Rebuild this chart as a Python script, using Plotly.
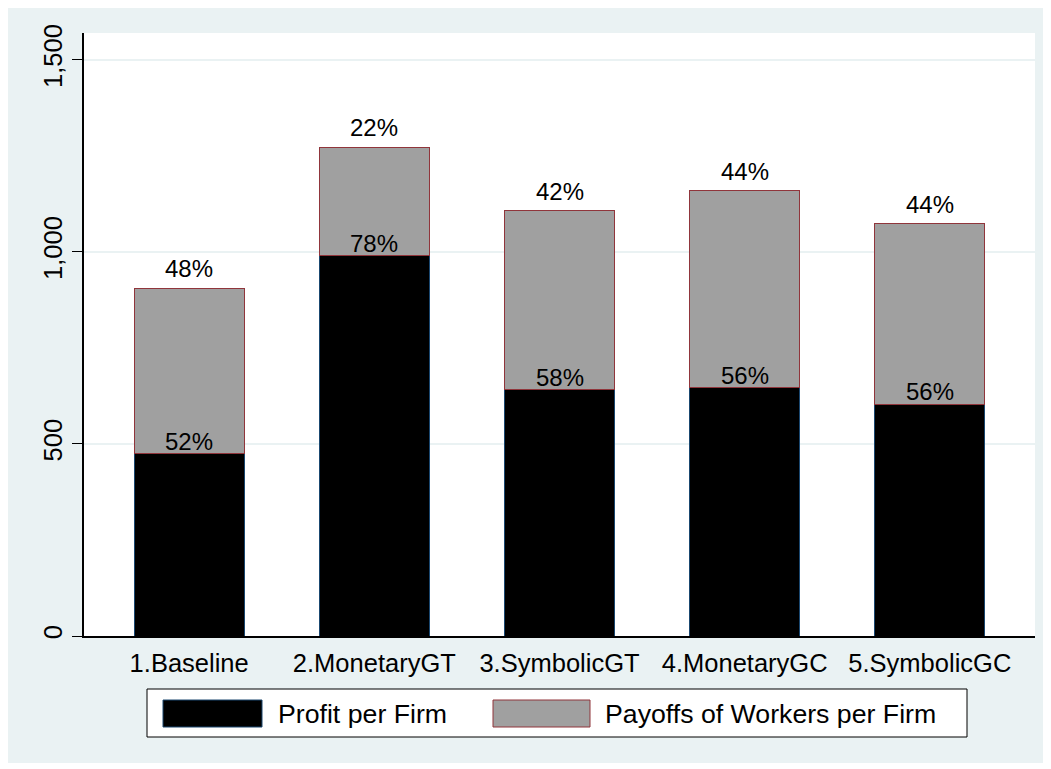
import plotly.graph_objects as go

# data
categories = ["1.Baseline", "2.MonetaryGT", "3.SymbolicGT", "4.MonetaryGC", "5.SymbolicGC"]
profit = [474, 990, 641, 646, 604]
workers = [432, 283, 466, 513, 469]
profit_pct = ["52%", "78%", "58%", "56%", "56%"]
workers_pct = ["48%", "22%", "42%", "44%", "44%"]
series_names = ["Profit per Firm", "Payoffs of Workers per Firm"]
y_ticks = [0, 500, 1000, 1500]

FONT = "Liberation Sans, Arial, sans-serif"
BG = "#EAF2F3"
NAVY = "#1a476f"
MAROON = "#90353b"
GREY = "#A0A0A0"

totals = [p + w for p, w in zip(profit, workers)]

fig = go.Figure()
fig.add_trace(go.Bar(x=categories, y=profit, name=series_names[0], width=0.595,
                     marker=dict(color="black", line=dict(color=NAVY, width=1))))
fig.add_trace(go.Bar(x=categories, y=workers, name=series_names[1], width=0.595,
                     marker=dict(color=GREY, line=dict(color=MAROON, width=1))))

annotations = []
for c, p, t, pp, wp in zip(categories, profit, totals, profit_pct, workers_pct):
    annotations.append(dict(x=c, y=p, text=pp, showarrow=False, yanchor="bottom",
                            yshift=-3, font=dict(size=24, color="black", family=FONT)))
    annotations.append(dict(x=c, y=t, text=wp, showarrow=False, yanchor="bottom",
                            yshift=4, font=dict(size=24, color="black", family=FONT)))

# legend is hand drawn (Stata style wide swatches); positions given in
# screen pixels and converted to paper coords (plot area is 84..1035 x 33..636)
def px(x):
    return (x - 84.0) / 951.0
def py(y):
    return (636.0 - y) / 603.0

shapes = [
    # white strips on right / bottom edge (page margin gives the left / top one)
    dict(type="rect", xref="paper", yref="paper", x0=px(1045), x1=px(1070), y0=py(790), y1=py(0),
         line=dict(width=0), fillcolor="white", layer="above"),
    dict(type="rect", xref="paper", yref="paper", x0=px(0), x1=px(1070), y0=py(790), y1=py(763),
         line=dict(width=0), fillcolor="white", layer="above"),
    # legend box
    dict(type="rect", xref="paper", yref="paper", x0=px(147), x1=px(967), y0=py(737), y1=py(689),
         line=dict(color="black", width=1), fillcolor="white", layer="above"),
    dict(type="rect", xref="paper", yref="paper", x0=px(163), x1=px(262), y0=py(727), y1=py(700),
         line=dict(color=NAVY, width=1), fillcolor="black", layer="above"),
    dict(type="rect", xref="paper", yref="paper", x0=px(493), x1=px(590), y0=py(727), y1=py(700),
         line=dict(color=MAROON, width=1), fillcolor=GREY, layer="above"),
]
annotations.append(dict(xref="paper", yref="paper", x=px(276), y=py(713.5), text=series_names[0],
                        showarrow=False, xanchor="left", yanchor="middle",
                        font=dict(size=26.7, color="black", family=FONT)))
annotations.append(dict(xref="paper", yref="paper", x=px(603), y=py(713.5), text=series_names[1],
                        showarrow=False, xanchor="left", yanchor="middle",
                        font=dict(size=26.7, color="black", family=FONT)))

# page body has an 8px margin, so the figure is 8px smaller than the window
fig.update_layout(
    barmode="stack",
    width=1043, height=761,
    margin=dict(l=76, r=16, t=25, b=133),
    paper_bgcolor=BG, plot_bgcolor="white",
    showlegend=False,
    font=dict(family=FONT, size=24, color="black"),
    shapes=shapes, annotations=annotations,
)
fig.update_xaxes(range=[-0.568, 4.568], showline=True, linecolor="black", linewidth=1.5,
                 ticks="", showgrid=False, tickfont=dict(size=25.5), ticklabelstandoff=4)
fig.update_yaxes(range=[0, 1570], tickvals=y_ticks, tickformat=",", showline=True,
                 linecolor="black", linewidth=1.5, ticks="outside", ticklen=10, tickcolor="black",
                 tickangle=-90, showgrid=True, gridcolor=BG, gridwidth=1.5, zeroline=False,
                 tickfont=dict(size=25.5), ticklabelstandoff=0)

fig.write_html("out.html")
